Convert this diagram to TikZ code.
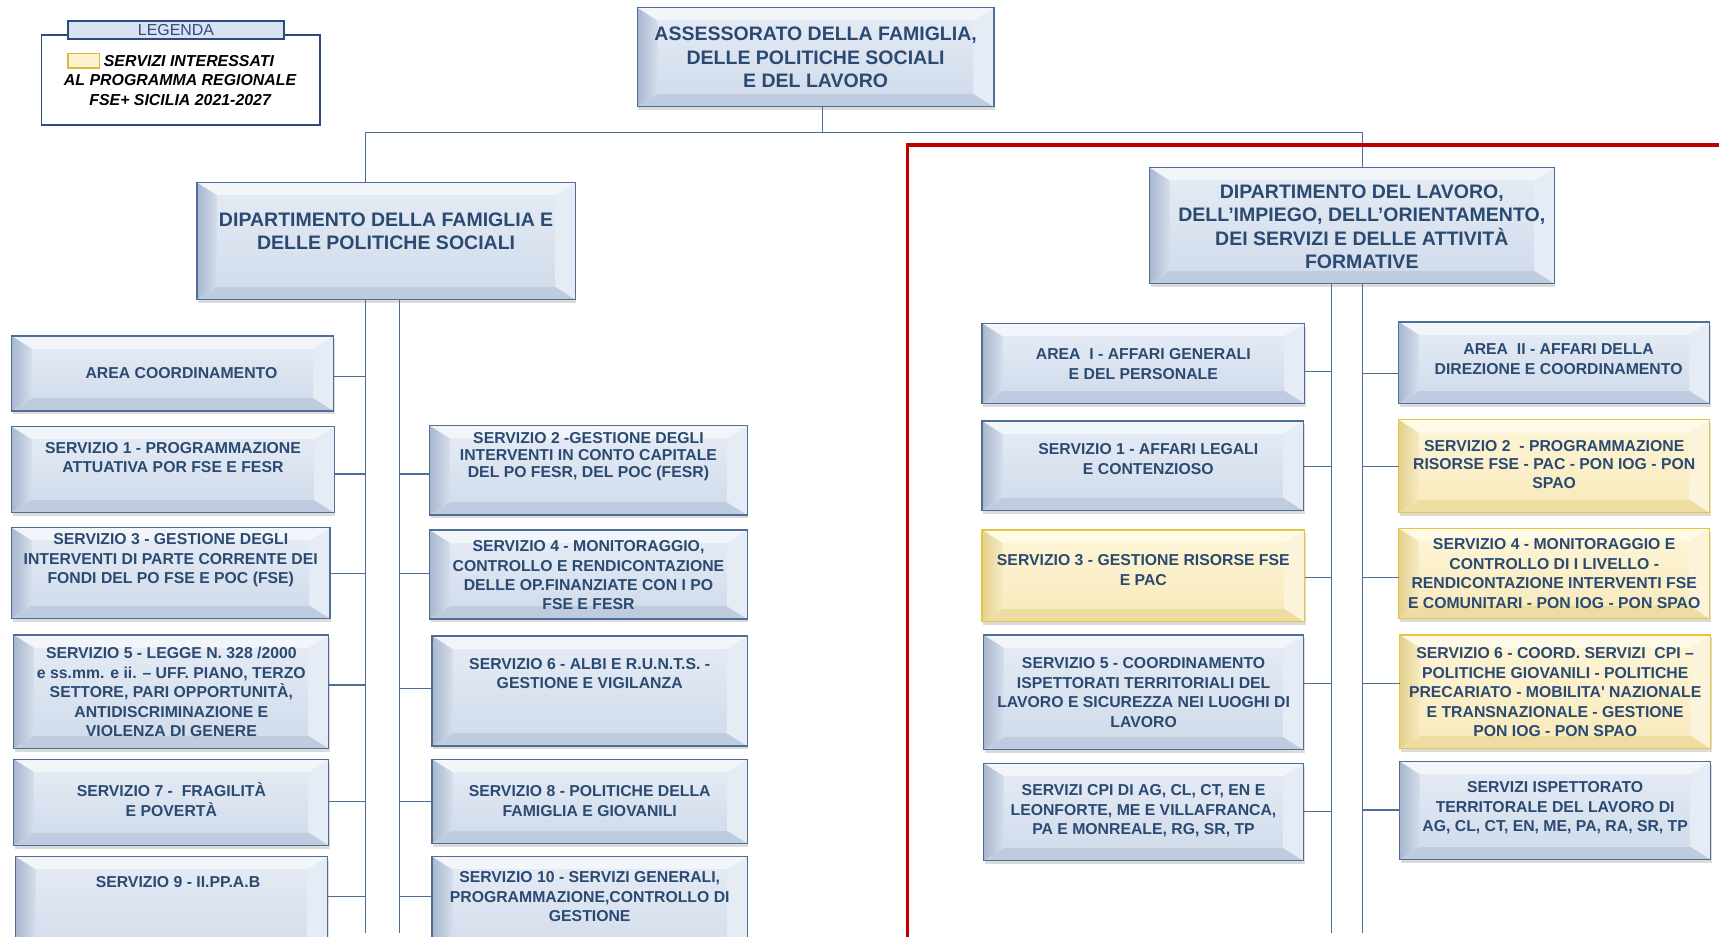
\documentclass[tikz,border=0pt]{standalone}
\usepackage{fontspec}
\setmainfont{Liberation Sans}
\usetikzlibrary{shadows,fit}

\definecolor{edgeb}{HTML}{4F6E96}
\definecolor{btop}{HTML}{F2F5FA}
\definecolor{bin1}{HTML}{E3EAF4}
\definecolor{bin2}{HTML}{D2DCEB}
\definecolor{bbot}{HTML}{BFCCDF}
\definecolor{bl1}{HTML}{A7B7CE}
\definecolor{bl2}{HTML}{D6DFEC}
\definecolor{bright}{HTML}{E6ECF5}
\definecolor{edgey}{HTML}{E6C640}
\definecolor{ytop}{HTML}{FFFAE6}
\definecolor{yin1}{HTML}{FDF4D4}
\definecolor{yin2}{HTML}{F9EBBF}
\definecolor{ybot}{HTML}{EEDDA2}
\definecolor{yl1}{HTML}{E3D08E}
\definecolor{yl2}{HTML}{F7EBC3}
\definecolor{yright}{HTML}{FCF4DA}
\definecolor{txtc}{HTML}{2A4A72}
\definecolor{connc}{HTML}{4D6F94}
\definecolor{redc}{HTML}{C00000}
\definecolor{legc}{HTML}{2E4B7D}
\definecolor{legfill}{HTML}{D9E2F3}
\definecolor{swfill}{HTML}{FDF2CF}
\definecolor{swedge}{HTML}{E0B840}

\def\bvx{19pt}
\def\bvy{12pt}
\newcommand{\bevel}[1]{%
  \path (path picture bounding box.north west) coordinate (bNW)
        (path picture bounding box.north east) coordinate (bNE)
        (path picture bounding box.south west) coordinate (bSW)
        (path picture bounding box.south east) coordinate (bSE);
  \path ([xshift=\bvx,yshift=-\bvy]bNW) coordinate (iNW)
        ([xshift=-\bvx,yshift=-\bvy]bNE) coordinate (iNE)
        ([xshift=\bvx,yshift=\bvy]bSW) coordinate (iSW)
        ([xshift=-\bvx,yshift=\bvy]bSE) coordinate (iSE);
  \fill[#1top] (bNW) -- (bNE) -- (iNE) -- (iNW) -- cycle;
  \fill[#1bot] (bSW) -- (bSE) -- (iSE) -- (iSW) -- cycle;
  \shade[left color=#1l1, right color=#1l2] (bNW) -- (iNW) -- (iSW) -- (bSW) -- cycle;
  \fill[#1right] (bNE) -- (iNE) -- (iSE) -- (bSE) -- cycle;
  \shade[top color=#1in1, bottom color=#1in2] (iNW) rectangle (iSE);
}

\newcommand{\orgbox}[9]{%
  \node[#2, fit={(#3,#4) (#5,#6)}] (#1) {};
  \node[txt,#9] (#1t) at ({(#3+#5)/2},#7) {#8};
}
\newcommand{\lconn}[3]{%
  \coordinate (#1y) at (0,#3);
  \draw[conn] (#1.east |- #1y) -- (#2 |- #1y);}
\newcommand{\rconn}[3]{%
  \coordinate (#1y) at (0,#3);
  \draw[conn] (#2 |- #1y) -- (#1.west |- #1y);}

\begin{document}
\begin{tikzpicture}[x=1pt,y=-1pt,
  boxbase/.style={inner sep=0pt, outer sep=0pt, line width=1.1pt, fill=white,
    drop shadow={shadow xshift=1pt, shadow yshift=-3pt, opacity=0.28}},
  bx/.style={boxbase, draw=edgeb, path picture={\bevel{b}}},
  ybx/.style={boxbase, draw=edgey, path picture={\bevel{y}}},
  txt/.style={inner sep=0pt, align=center, text=txtc,
    font=\fontsize{14.4}{17.8}\selectfont\bfseries},
  big/.style={font=\fontsize{17.8}{21.5}\selectfont\bfseries},
  conn/.style={draw=connc, line width=1.2pt},
  redl/.style={draw=redc, line width=3pt},
  legbox/.style={draw=legc, line width=1.3pt, inner sep=0pt},
  legtxt/.style={inner sep=0pt, align=center, text=black,
    font=\fontsize{14.5}{18}\selectfont\bfseries\itshape}
]
\clip (0,0) rectangle (1568,854);
\fill[white] (0,0) rectangle (1568,854);

% ---------- legend ----------
\node[legbox, fit={(38,32) (292,114)}] (legmain) {};
\node[legbox, fill=legfill, fit={(62,19) (259,35.6)}] (legtitle) {};
\node[inner sep=0pt, text=legc, font=\fontsize{14.5}{17}\selectfont] (legtitlet) at (legtitle.center) {LEGENDA};
\node[draw=swedge, fill=swfill, line width=1.2pt, inner sep=0pt, fit={(62,49) (91,62)}] (swatch) {};
\node[legtxt, anchor=west] (leg1) at (94.5,55.6) {SERVIZI INTERESSATI};
\node[legtxt] (leg2) at (164.3,82) {AL PROGRAMMA REGIONALE\\FSE+ SICILIA 2021-2027};

% ---------- top level ----------
\orgbox{ass}{bx}{581.2}{7}{906.7}{97.3}{52.5}{ASSESSORATO DELLA FAMIGLIA,\\DELLE POLITICHE SOCIALI\\E DEL LAVORO}{big}
\orgbox{dfam}{bx}{179.6}{166.5}{524.8}{273}{211}{DIPARTIMENTO DELLA FAMIGLIA E\\DELLE POLITICHE SOCIALI}{big}
\orgbox{dlav}{bx}{1048.6}{153}{1417.7}{258.4}{206.8}{DIPARTIMENTO DEL LAVORO,\\DELL’IMPIEGO, DELL’ORIENTAMENTO,\\DEI SERVIZI E DELLE ATTIVITÀ\\FORMATIVE}{big,xshift=9pt}

% ---------- famiglia: left column ----------
\orgbox{ac}{bx}{10.5}{306.4}{304.5}{374.8}{340.5}{AREA COORDINAMENTO}{xshift=8pt}
\orgbox{fs1}{bx}{10.5}{389.1}{305}{467.6}{417.4}{SERVIZIO 1 - PROGRAMMAZIONE\\ATTUATIVA POR FSE E FESR}{}
\orgbox{fs3}{bx}{10.5}{481.3}{301}{564}{511.2}{SERVIZIO 3 - GESTIONE DEGLI\\INTERVENTI DI PARTE CORRENTE DEI\\FONDI DEL PO FSE E POC (FSE)}{}
\orgbox{fs5}{bx}{12.6}{579.2}{300}{682.6}{631.3}{SERVIZIO 5 - LEGGE N. 328 /2000\\e ss.mm. e ii. – UFF. PIANO, TERZO\\SETTORE, PARI OPPORTUNITÀ,\\ANTIDISCRIMINAZIONE E\\VIOLENZA DI GENERE}{}
\orgbox{fs7}{bx}{12.6}{692.6}{300}{771}{729.4}{SERVIZIO 7 -~~FRAGILITÀ\\E POVERTÀ}{}
\orgbox{fs9}{bx}{14}{781.4}{298.7}{880}{804.2}{SERVIZIO 9 - II.PP.A.B}{xshift=6pt}

% ---------- famiglia: right column ----------
\orgbox{fs2}{bx}{391.8}{388.2}{681.7}{469.7}{416.5}{SERVIZIO 2 -GESTIONE DEGLI\\INTERVENTI IN CONTO CAPITALE\\DEL PO FESR, DEL POC (FESR)}{font=\fontsize{14.4}{15.8}\selectfont\bfseries}
\orgbox{fs4}{bx}{391.8}{483.4}{681.7}{564.6}{524.6}{SERVIZIO 4 - MONITORAGGIO,\\CONTROLLO E RENDICONTAZIONE\\DELLE OP.FINANZIATE CON I PO\\FSE E FESR}{font=\fontsize{14.4}{17.4}\selectfont\bfseries}
\orgbox{fs6}{bx}{394.1}{580.1}{681.7}{680.4}{614.2}{SERVIZIO 6 - ALBI E R.U.N.T.S. -\\GESTIONE E VIGILANZA}{}
\orgbox{fs8}{bx}{394.1}{692.6}{681.7}{769.2}{730.9}{SERVIZIO 8 - POLITICHE DELLA\\FAMIGLIA E GIOVANILI}{}
\orgbox{fs10}{bx}{394.1}{781.4}{681.7}{880}{818}{SERVIZIO 10 - SERVIZI GENERALI,\\PROGRAMMAZIONE,CONTROLLO DI\\GESTIONE}{}

% ---------- lavoro: left column ----------
\orgbox{la1}{bx}{895.7}{294.9}{1190}{367.9}{332.3}{AREA~~I - AFFARI GENERALI\\E DEL PERSONALE}{}
\orgbox{ls1}{bx}{895.7}{384}{1189.2}{465.8}{418.9}{SERVIZIO 1 - AFFARI LEGALI\\E CONTENZIOSO}{xshift=5pt}
\orgbox{ls3}{ybx}{895.7}{483.4}{1190}{567}{519.9}{SERVIZIO 3 - GESTIONE RISORSE FSE\\E PAC}{}
\orgbox{ls5}{bx}{897.1}{579.2}{1189.2}{684}{631.9}{SERVIZIO 5 - COORDINAMENTO\\ISPETTORATI TERRITORIALI DEL\\LAVORO E SICUREZZA NEI LUOGHI DI\\LAVORO}{}
\orgbox{lcpi}{bx}{897.1}{696.2}{1189}{785}{739.6}{SERVIZI CPI DI AG, CL, CT, EN E\\LEONFORTE, ME E VILLAFRANCA,\\PA E MONREALE, RG, SR, TP}{font=\fontsize{14.4}{17.5}\selectfont\bfseries}

% ---------- lavoro: right column ----------
\orgbox{la2}{bx}{1275.9}{293.7}{1559.4}{367.9}{327.4}{AREA~~II - AFFARI DELLA\\DIREZIONE E COORDINAMENTO}{xshift=4pt}
\orgbox{ls2}{ybx}{1275.9}{383}{1559.4}{467.3}{423.7}{SERVIZIO 2~~- PROGRAMMAZIONE\\RISORSE FSE - PAC - PON IOG - PON\\SPAO}{font=\fontsize{14.4}{17.2}\selectfont\bfseries}
\orgbox{ls4}{ybx}{1275.9}{482.2}{1559.4}{564}{523.2}{SERVIZIO 4 - MONITORAGGIO E\\CONTROLLO DI I LIVELLO -\\RENDICONTAZIONE INTERVENTI FSE\\E COMUNITARI - PON IOG - PON SPAO}{}
\orgbox{ls6}{ybx}{1276.8}{579.2}{1560.3}{682.6}{631.3}{SERVIZIO 6 - COORD. SERVIZI~~CPI –\\POLITICHE GIOVANILI - POLITICHE\\PRECARIATO - MOBILITA\textquotesingle{} NAZIONALE\\E TRANSNAZIONALE - GESTIONE\\PON IOG - PON SPAO}{}
\orgbox{lisp}{bx}{1276.8}{694.7}{1560.3}{783.8}{737}{SERVIZI ISPETTORATO\\TERRITORALE DEL LAVORO DI\\AG, CL, CT, EN, ME, PA, RA, SR, TP}{}

% ---------- connectors ----------
\coordinate (tS) at (750.4,0);
\coordinate (tA) at (333.2,0);
\coordinate (tB) at (364.4,0);
\coordinate (tC) at (1214.4,0);
\coordinate (tD) at (1242.8,0);
\coordinate (bus) at (0,121);
\coordinate (bot) at (0,851);

\draw[conn] (ass.south -| tS) -- (tS |- bus);
\draw[conn] (tA |- bus) -- (tD |- bus);
\draw[conn] (tA |- bus) -- (tA |- dfam.north);
\draw[conn] (tD |- bus) -- (tD |- dlav.north);

\draw[conn] (tA |- dfam.south) -- (tA |- bot);
\draw[conn] (tB |- dfam.south) -- (tB |- bot);
\draw[conn] (tC |- dlav.south) -- (tC |- bot);
\draw[conn] (tD |- dlav.south) -- (tD |- bot);

\lconn{ac}{tA}{343.5}
\lconn{fs1}{tA}{432.3}
\lconn{fs3}{tA}{522.9}
\lconn{fs5}{tA}{624.8}
\lconn{fs7}{tA}{731.2}
\lconn{fs9}{tA}{817.8}

\rconn{fs2}{tB}{432.3}
\rconn{fs4}{tB}{522.9}
\rconn{fs6}{tB}{627.8}
\rconn{fs8}{tB}{731.2}
\rconn{fs10}{tB}{817.8}

\lconn{la1}{tC}{339}
\lconn{ls1}{tC}{425.6}
\lconn{ls3}{tC}{526.9}
\lconn{ls5}{tC}{623.3}
\lconn{lcpi}{tC}{740.3}

\rconn{la2}{tD}{340.5}
\rconn{ls2}{tD}{425.6}
\rconn{ls4}{tD}{526.9}
\rconn{ls6}{tD}{623.3}
\rconn{lisp}{tD}{738.8}

% ---------- red frame ----------
\coordinate (redc1) at (827.6,870);
\coordinate (redc2) at (827.6,132.3);
\coordinate (redc3) at (1580,132.3);
\draw[redl] (redc1) -- (redc2) -- (redc3);
\end{tikzpicture}
\end{document}
